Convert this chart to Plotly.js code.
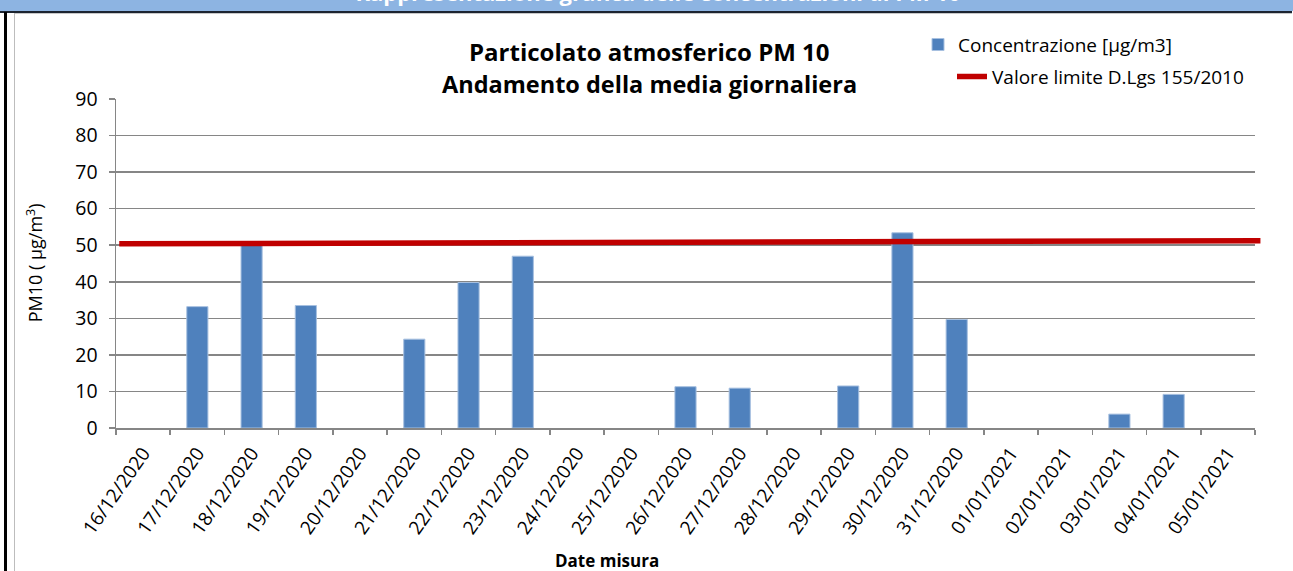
<!DOCTYPE html>
<html>
<head>
<meta charset="utf-8">
<script src="https://cdn.plot.ly/plotly-3.0.1.min.js"></script>
<style>
html,body{margin:0;padding:0;background:#fff;overflow:hidden;width:1293px;height:571px;}
#wrap{position:relative;width:1293px;height:571px;overflow:hidden;}
#chart{position:absolute;left:0;top:0;width:1293px;height:571px;}
.fr{position:absolute;pointer-events:none;}
#banner{left:0;top:0;width:1293px;height:11px;background:#8DB4E2;overflow:hidden;}
#bannerText{position:absolute;left:0;width:1316px;bottom:8.5px;text-align:center;
  font-family:"Open Sans",sans-serif;font-weight:700;font-size:22px;line-height:22px;color:#fff;white-space:nowrap;}
#bannerLine{left:0;top:11px;width:1292px;height:1.5px;background:#1C2430;}
#leftBlack{left:3.5px;top:12px;width:3px;height:559px;background:#000;}
#leftGray{left:13.5px;top:13px;width:1.5px;height:558px;background:#BDBDBD;}
#topGray{left:14px;top:13px;width:1278px;height:1px;background:#C8C8C8;}
</style>
</head>
<body>
<div id="wrap">
  <div id="chart"></div>
  <div class="fr" id="banner"><div id="bannerText">Rappresentazione grafica delle concentrazioni di PM 10</div></div>
  <div class="fr" id="bannerLine"></div>
  <div class="fr" id="topGray"></div>
  <div class="fr" id="leftBlack"></div>
  <div class="fr" id="leftGray"></div>
</div>
<script>
// ---- data ----
const dates = ["16/12/2020","17/12/2020","18/12/2020","19/12/2020","20/12/2020","21/12/2020","22/12/2020","23/12/2020","24/12/2020","25/12/2020","26/12/2020","27/12/2020","28/12/2020","29/12/2020","30/12/2020","31/12/2020","01/01/2021","02/01/2021","03/01/2021","04/01/2021","05/01/2021"];
const concentrazione = [null,33.2,50.0,33.5,null,24.3,39.8,47.0,null,null,11.3,10.9,null,11.5,53.4,29.7,null,null,3.8,9.2,null];
const limiteX = [-0.44, 20.6];
const limiteY = [50.4, 51.25];
const yTicks = [0,10,20,30,40,50,60,70,80,90];

const W = 1293, H = 571;
const L = 116, R = 1263, T = 99.3, B = 428;   // paper area in px
const plotRight = 1255;                       // end of category axis
const px = x => (x - L) / (R - L);
const py = y => (B - y) / (B - T);
const nCat = dates.length;
const stepPx = (plotRight - L) / nCat;
const x2End = -0.5 + (R - L) / stepPx;

const FONT = "Open Sans";

const traces = [
  {
    type: "bar",
    x: dates,
    y: concentrazione,
    name: "Concentrazione [µg/m3]",
    width: 0.39,
    marker: {color: "#4F81BD", line: {color: "#A7C0E0", width: 1}},
    xaxis: "x", yaxis: "y",
    legend: "legend"
  },
  {
    type: "scatter",
    mode: "lines",
    x: limiteX,
    y: limiteY,
    name: "Valore limite D.Lgs 155/2010",
    line: {color: "#C00000", width: 5.5},
    xaxis: "x2", yaxis: "y2",
    legend: "legend2"
  }
];

const layout = {
  width: W, height: H,
  margin: {l: L, r: W - R, t: T, b: H - B, pad: 0},
  paper_bgcolor: "#ffffff",
  plot_bgcolor: "rgba(0,0,0,0)",
  font: {family: FONT, color: "#000", size: 16},
  showlegend: true,
  xaxis: {
    type: "category",
    domain: [0, px(plotRight)],
    range: [-0.5, nCat - 0.5],
    tickson: "boundaries",
    ticks: "outside", ticklen: 5, tickwidth: 1.5, tickcolor: "#868686",
    showline: true, linecolor: "#868686", linewidth: 1.5,
    showgrid: false, zeroline: false,
    tickangle: -55,
    tickfont: {family: FONT, size: 19, color: "#000"},
    ticklabelstandoff: 5,
    fixedrange: true
  },
  yaxis: {
    range: [0, 90],
    tickvals: yTicks,
    ticks: "outside", ticklen: 6, tickwidth: 1.5, tickcolor: "#868686",
    showline: true, linecolor: "#868686", linewidth: 1.5,
    showgrid: true, gridcolor: "#868686", gridwidth: 1.5,
    zeroline: false,
    tickfont: {family: FONT, size: 19.5, color: "#000"},
    ticklabelstandoff: 7,
    fixedrange: true
  },
  xaxis2: {
    domain: [0, 1], range: [-0.5, x2End], anchor: "y2",
    visible: false, fixedrange: true
  },
  yaxis2: {
    domain: [0, 1], range: [0, 90], anchor: "x2",
    visible: false, fixedrange: true
  },
  legend: {
    x: px(918), y: py(45), xanchor: "left", yanchor: "middle",
    bgcolor: "rgba(0,0,0,0)", borderwidth: 0,
    font: {family: FONT, size: 19, color: "#000"}
  },
  legend2: {
    x: px(952), y: py(77), xanchor: "left", yanchor: "middle",
    bgcolor: "rgba(0,0,0,0)", borderwidth: 0,
    font: {family: FONT, size: 19, color: "#000"}
  },
  annotations: [
    {xref: "paper", yref: "paper", x: px(649), y: py(52), xanchor: "center", yanchor: "middle",
      text: "Particolato atmosferico PM 10", showarrow: false,
      font: {family: FONT, size: 24, color: "#000", weight: 700}},
    {xref: "paper", yref: "paper", x: px(649), y: py(84), xanchor: "center", yanchor: "middle",
      text: "Andamento della media giornaliera", showarrow: false,
      font: {family: FONT, size: 23.5, color: "#000", weight: 700}},
    {xref: "paper", yref: "paper", x: px(35), y: py(263.5), xanchor: "center", yanchor: "middle",
      text: "PM10 ( µg/m<sup>3</sup>)", textangle: -90, showarrow: false,
      font: {family: FONT, size: 18, color: "#000"}},
    {xref: "paper", yref: "paper", x: px(607), y: py(560), xanchor: "center", yanchor: "middle",
      text: "Date misura", showarrow: false,
      font: {family: FONT, size: 17, color: "#000", weight: 700}}
  ]
};

Plotly.newPlot("chart", traces, layout, {displayModeBar: false, staticPlot: true});
</script>
</body>
</html>
